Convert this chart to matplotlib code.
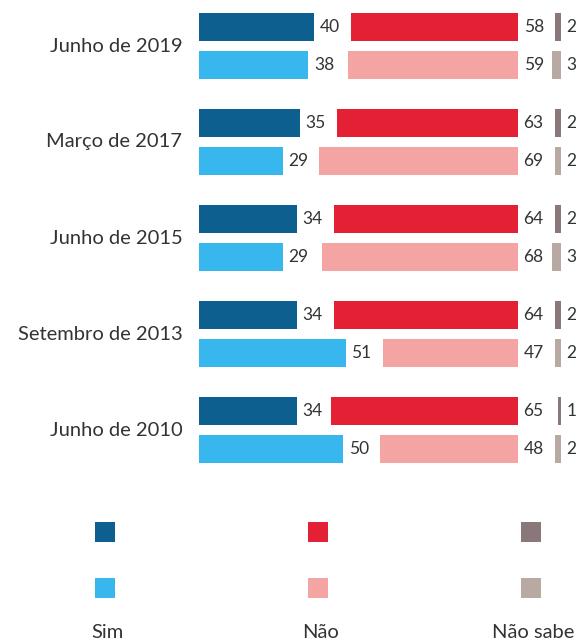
import matplotlib.pyplot as plt

periods = ["Junho de 2019", "Março de 2017", "Junho de 2015", "Setembro de 2013", "Junho de 2010"]
# first row of each period (dark colours) and second row (light colours)
sim_a = [40, 35, 34, 34, 34]
nao_a = [58, 63, 64, 64, 65]
ns_a = [2, 2, 2, 2, 1]
sim_b = [38, 29, 29, 51, 50]
nao_b = [59, 69, 68, 47, 48]
ns_b = [3, 2, 3, 2, 2]
legend_labels = ["Sim", "Não", "Não sabe"]

dark = ["#0d5f8f", "#e42134", "#8a777a"]
light = ["#37b7ee", "#f4a4a2", "#b8a9a2"]
txt = "#333333"
plt.rcParams["font.family"] = ["Lato", "DejaVu Sans"]

W, H = 579, 642
s = 2.88  # px per percentage point
fig = plt.figure(figsize=(W / 100, H / 100), dpi=100)

def make_ax(origin, inverted=False):
    ax = fig.add_axes([0, 0, 1, 1])
    ax.patch.set_alpha(0)
    ax.axis("off")
    if inverted:
        ax.set_xlim(origin / s, -(W - origin) / s)
    else:
        ax.set_xlim(-origin / s, (W - origin) / s)
    ax.set_ylim(H, 0)
    return ax

ax_sim = make_ax(199)
ax_nao = make_ax(518, inverted=True)
ax_ns = make_ax(561, inverted=True)

y_a = [27 + 96 * i for i in range(len(periods))]
y_b = [y + 38 for y in y_a]
bh = 28

for ax, va, vb, i in [(ax_sim, sim_a, sim_b, 0), (ax_nao, nao_a, nao_b, 1), (ax_ns, ns_a, ns_b, 2)]:
    ax.barh(y_a, va, height=bh, color=dark[i])
    ax.barh(y_b, vb, height=bh, color=light[i])
    for y, v in list(zip(y_a, va)) + list(zip(y_b, vb)):
        x0 = v if i == 0 else 0
        ax.annotate(str(v), (x0, y), xytext=(4, 0), textcoords="offset points",
                    ha="left", va="center", fontsize=12.5, color=txt)

for y1, y2, p in zip(y_a, y_b, periods):
    ax_sim.annotate(p, (0, (y1 + y2) / 2), xytext=(-12, 0), textcoords="offset points",
                    ha="right", va="center", fontsize=14.5, color=txt)

# legend
lax = fig.add_axes([0, 0, 1, 1])
lax.patch.set_alpha(0)
lax.axis("off")
lax.set_xlim(0, W)
lax.set_ylim(H, 0)
for x, c1, c2, lab in zip([105, 318, 531], dark, light, legend_labels):
    lax.scatter([x], [532], marker="s", s=190, color=c1, linewidths=0)
    lax.scatter([x], [588], marker="s", s=190, color=c2, linewidths=0)
    lax.text(x + 2, 632, lab, ha="center", va="center", fontsize=14.5, color=txt)

fig.savefig("out.png", dpi=100)
